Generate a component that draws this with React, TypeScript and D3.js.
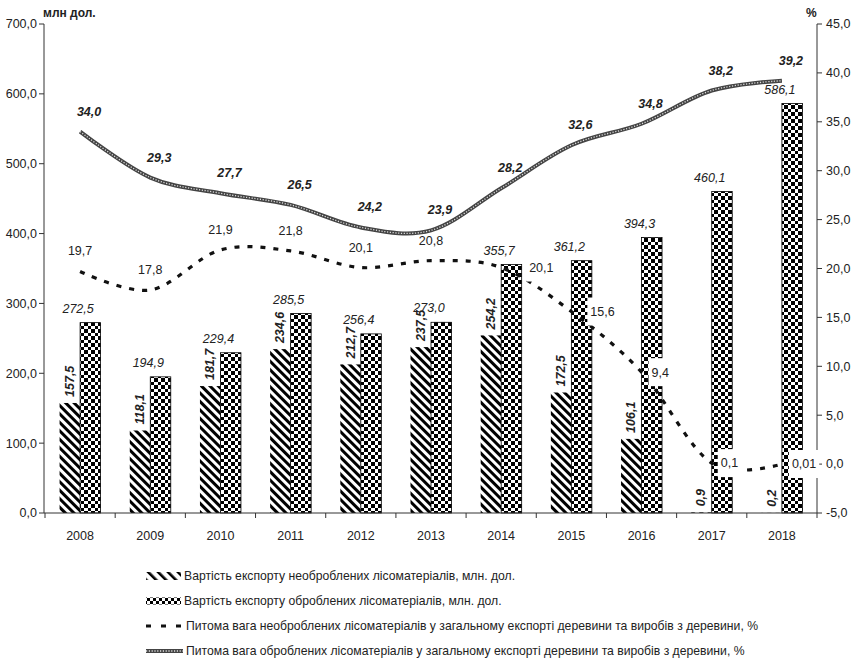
import React from 'react';
import * as d3 from 'd3';

const years = ['2008', '2009', '2010', '2011', '2012', '2013', '2014', '2015', '2016', '2017', '2018'];
const rawExport = [157.5, 118.1, 181.7, 234.6, 212.7, 237.5, 254.2, 172.5, 106.1, 0.9, 0.2];
const processedExport = [272.5, 194.9, 229.4, 285.5, 256.4, 273.0, 355.7, 361.2, 394.3, 460.1, 586.1];
const rawShare = [19.7, 17.8, 21.9, 21.8, 20.1, 20.8, 20.1, 15.6, 9.4, 0.1, 0.01];
const processedShare = [34.0, 29.3, 27.7, 26.5, 24.2, 23.9, 28.2, 32.6, 34.8, 38.2, 39.2];
const leftTicks = [0, 100, 200, 300, 400, 500, 600, 700];
const rightTicks = [-5, 0, 5, 10, 15, 20, 25, 30, 35, 40, 45];
const legendItems = [
  'Вартість експорту необроблених лісоматеріалів, млн. дол.',
  'Вартість експорту оброблених лісоматеріалів, млн. дол.',
  'Питома вага необроблених лісоматеріалів у загальному експорті деревини та виробів з деревини, %',
  'Питома вага оброблених лісоматеріалів у загальному експорті деревини та виробів з деревини, %',
];
// label shift (px) for the share labels drawn to the right of their points
const rightLabelShift = [28, 19, 10, 9, 10];

const W = 854;
const H = 660;
const FONT = '"Liberation Sans", Arial, sans-serif';
const INK = '#222';

const fmt = (v: number) => (v !== 0 && Math.abs(v) < 0.1 ? v.toFixed(2) : v.toFixed(1)).replace('.', ',');
const textW = (s: string, size: number) =>
  s.split('').reduce((a, c) => a + (c === ',' ? 0.278 : 0.556) * size, 0);

export default function App() {
  const x = d3.scaleBand().domain(years).range([45, 817]);
  const yL = d3.scaleLinear().domain([0, 700]).range([513, 24]);
  const yR = d3.scaleLinear().domain([-5, 45]).range([513, 24]);
  const bw = 20.5;
  const cx = (i: number) => (x(years[i]) as number) + x.bandwidth() / 2;

  const line = d3
    .line<number>()
    .x((_, i) => cx(i))
    .y((d) => yR(d))
    .curve(d3.curveCardinal.tension(0));

  const boundaries = years.map((y) => x(y) as number).concat([817]);

  return (
    <svg width={W} height={H} style={{ position: 'absolute', left: 0, top: 0, background: '#fff' }} fontFamily={FONT}>
      <defs>
        <pattern id="hatch" patternUnits="userSpaceOnUse" width={6} height={6} patternTransform="rotate(-45)">
          <rect width={6} height={6} fill="#fff" />
          <rect width={3} height={6} fill="#000" />
        </pattern>
        <pattern id="check" patternUnits="userSpaceOnUse" width={7} height={7}>
          <rect width={7} height={7} fill="#fff" shapeRendering="crispEdges" />
          <rect width={3.5} height={3.5} fill="#000" shapeRendering="crispEdges" />
          <rect x={3.5} y={3.5} width={3.5} height={3.5} fill="#000" shapeRendering="crispEdges" />
        </pattern>
        <pattern id="hatchLeg" patternUnits="userSpaceOnUse" width={7} height={7} patternTransform="rotate(-45)">
          <rect width={7} height={7} fill="#fff" />
          <rect width={2.6} height={7} fill="#000" />
        </pattern>
        <pattern id="checkLeg" patternUnits="userSpaceOnUse" width={6} height={6} x={0} y={1}>
          <rect width={6} height={6} fill="#fff" shapeRendering="crispEdges" />
          <rect width={3} height={3} fill="#000" shapeRendering="crispEdges" />
          <rect x={3} y={3} width={3} height={3} fill="#000" shapeRendering="crispEdges" />
        </pattern>
      </defs>

      {/* bars */}
      {years.map((yr, i) => (
        <g key={'b' + yr}>
          <rect x={cx(i) - bw} y={yL(rawExport[i])} width={bw} height={yL(0) - yL(rawExport[i])} fill="url(#hatch)" />
          <rect
            x={cx(i)}
            y={yL(processedExport[i])}
            width={bw}
            height={yL(0) - yL(processedExport[i])}
            fill="url(#check)"
            stroke="#000"
            strokeWidth={0.8}
          />
        </g>
      ))}

      {/* axes */}
      <line x1={44} x2={44} y1={24} y2={513} stroke="#333" strokeWidth={1} />
      <line x1={817} x2={817} y1={24} y2={513} stroke="#333" strokeWidth={1} />
      <line x1={44} x2={817} y1={513} y2={513} stroke="#333" strokeWidth={1} />
      {leftTicks.map((t) => (
        <g key={'l' + t}>
          <line x1={39} x2={44} y1={yL(t)} y2={yL(t)} stroke="#333" />
          <text x={37} y={yL(t)} dy="0.35em" textAnchor="end" fontSize={12.5} fill={INK}>
            {fmt(t)}
          </text>
        </g>
      ))}
      {rightTicks.map((t) => (
        <g key={'r' + t}>
          <line x1={817} x2={822} y1={yR(t)} y2={yR(t)} stroke="#333" />
          <text x={826} y={yR(t)} dy="0.35em" textAnchor="start" fontSize={12.5} fill={INK}>
            {fmt(t)}
          </text>
        </g>
      ))}
      {boundaries.map((b, i) => (
        <line key={'xt' + i} x1={b} x2={b} y1={513} y2={518} stroke="#333" />
      ))}
      {years.map((yr, i) => (
        <text key={'xl' + yr} x={cx(i)} y={540} textAnchor="middle" fontSize={12.5} fill={INK}>
          {yr}
        </text>
      ))}
      <text x={43} y={17} fontSize={12} fontWeight="bold" fill={INK}>
        млн дол.
      </text>
      <text x={806} y={17} fontSize={12} fontWeight="bold" fill={INK}>
        %
      </text>

      {/* lines */}
      <path d={line(processedShare) as string} fill="none" stroke="#444" strokeWidth={4} />
      <path d={line(processedShare) as string} fill="none" stroke="#ddd" strokeWidth={1.3} strokeDasharray="1.2,1.6" />
      <path d={line(rawShare) as string} fill="none" stroke="#111" strokeWidth={3.2} strokeDasharray="5,8" />

      {/* bar labels */}
      {years.map((yr, i) => (
        <g key={'bl' + yr}>
          <text
            x={cx(i) - 2}
            y={yL(processedExport[i]) - 10}
            textAnchor="middle"
            fontSize={12.5}
            fontStyle="italic"
            fill={INK}
          >
            {fmt(processedExport[i])}
          </text>
          <text
            transform={`translate(${cx(i) - bw / 2},${yL(rawExport[i]) - 6}) rotate(-90)`}
            dominantBaseline="central"
            textAnchor="start"
            fontSize={12.5}
            fontStyle="italic"
            fontWeight="bold"
            fill={INK}
          >
            {fmt(rawExport[i])}
          </text>
        </g>
      ))}

      {/* share labels */}
      {processedShare.map((v, i) => (
        <text
          key={'pl' + i}
          x={cx(i) + 9}
          y={yR(v) - 16}
          textAnchor="middle"
          fontSize={12.5}
          fontStyle="italic"
          fontWeight="bold"
          fill={INK}
        >
          {fmt(v)}
        </text>
      ))}
      {rawShare.map((v, i) => {
        const s = fmt(v);
        if (i < 6) {
          return (
            <text key={'rl' + i} x={cx(i)} y={yR(v) - 16} textAnchor="middle" fontSize={12.5} fill={INK}>
              {s}
            </text>
          );
        }
        const tx = cx(i) + rightLabelShift[i - 6];
        const w = textW(s, 12.5);
        return (
          <g key={'rl' + i}>
            <rect x={tx - 3} y={yR(v) - 14} width={w + 6} height={28} fill="#fff" />
            <text x={tx} y={yR(v)} dy="0.35em" fontSize={12.5} fill={INK}>
              {s}
            </text>
          </g>
        );
      })}

      {/* legend */}
      {legendItems.map((t, i) => {
        const ly = 576 + i * 25;
        let sym: React.ReactNode = null;
        if (i === 0) sym = <rect x={146} y={ly - 4} width={35} height={8} fill="url(#hatchLeg)" />;
        if (i === 1) sym = <rect x={146} y={ly - 3.5} width={35} height={7} fill="url(#checkLeg)" />;
        if (i === 2)
          sym = <line x1={146} x2={183} y1={ly} y2={ly} stroke="#111" strokeWidth={3.2} strokeDasharray="5,10" />;
        if (i === 3)
          sym = (
            <g>
              <line x1={146} x2={183} y1={ly} y2={ly} stroke="#444" strokeWidth={4} />
              <line x1={146} x2={183} y1={ly} y2={ly} stroke="#ddd" strokeWidth={1.3} strokeDasharray="1.2,1.6" />
            </g>
          );
        return (
          <g key={'lg' + i}>
            {sym}
            <text x={i < 2 ? 184 : 186} y={ly} dy="0.35em" fontSize={12.2} fill={INK}>
              {t}
            </text>
          </g>
        );
      })}
    </svg>
  );
}
